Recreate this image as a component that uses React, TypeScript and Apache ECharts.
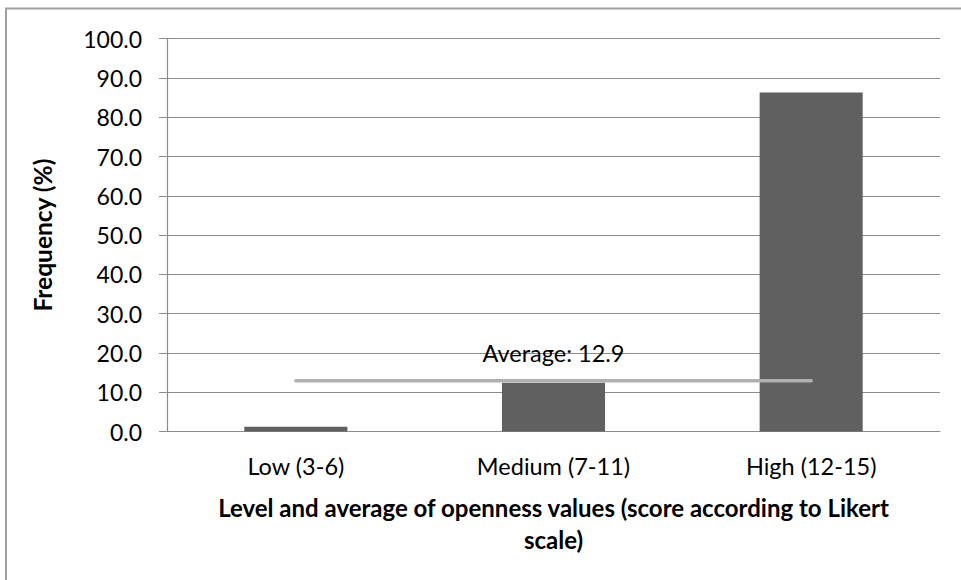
import React, { useEffect, useRef } from "react";
import * as echarts from "echarts";

const categories = ["Low (3-6)", "Medium (7-11)", "High (12-15)"];
const frequency = [1.2, 12.4, 86.3];
const average = 12.9;
const averageLine = [average, average, average];
const yTicks = { min: 0, max: 100, interval: 10 };

const FONT = "Lato";

export default function App() {
  const ref = useRef<HTMLDivElement>(null);

  useEffect(() => {
    if (!ref.current) return;
    const chart = echarts.init(ref.current, undefined, { renderer: "svg" });
    chart.setOption({
      animation: false,
      backgroundColor: "#ffffff",
      textStyle: { fontFamily: FONT },
      graphic: [
        {
          type: "rect",
          shape: { x: 6, y: 8.5, width: 1000, height: 1000 },
          style: { fill: "none", stroke: "#a0a0a0", lineWidth: 2 },
          silent: true,
        },
      ],
      grid: { left: 167, right: 21, top: 38.7, bottom: 148.5 },
      xAxis: {
        type: "category",
        data: categories,
        axisLine: { lineStyle: { color: "#8c8c8c", width: 1.2 } },
        axisTick: { show: false },
        axisLabel: { color: "#000", fontSize: 23.5, fontFamily: FONT, margin: 22 },
        name: "Level and average of openness values (score according to Likert\nscale)",
        nameLocation: "middle",
        nameGap: 60,
        nameTextStyle: {
          color: "#000",
          fontSize: 24,
          fontWeight: "bold",
          fontFamily: FONT,
          lineHeight: 32,
        },
      },
      yAxis: {
        type: "value",
        min: yTicks.min,
        max: yTicks.max,
        interval: yTicks.interval,
        axisLine: { show: true, lineStyle: { color: "#8c8c8c", width: 1.2 } },
        axisTick: { show: true, length: 8, lineStyle: { color: "#8c8c8c" } },
        splitLine: { lineStyle: { color: "#8c8c8c", width: 1.2 } },
        axisLabel: {
          color: "#000",
          fontSize: 23,
          fontFamily: FONT,
          margin: 25,
          formatter: (v: number) => v.toFixed(1),
        },
        name: "Frequency (%)",
        nameLocation: "middle",
        nameRotate: 90,
        nameGap: 112,
        nameTextStyle: { color: "#000", fontSize: 24.5, fontWeight: "bold", fontFamily: FONT },
      },
      series: [
        {
          type: "bar",
          data: frequency,
          barWidth: "40%",
          itemStyle: { color: "#606060" },
        },
        {
          type: "line",
          data: averageLine.map((v, i) =>
            i === 1
              ? {
                  value: v,
                  label: {
                    show: true,
                    position: "top",
                    distance: 15,
                    formatter: "Average: " + average.toFixed(1),
                    color: "#000",
                    fontSize: 23.5,
                    fontFamily: FONT,
                  },
                }
              : v
          ),
          symbol: "circle",
          symbolSize: 1,
          showSymbol: true,
          itemStyle: { color: "#b0b0b0" },
          lineStyle: { color: "#b0b0b0", width: 3.5, cap: "round" },
          z: 3,
        },
      ],
    });
    return () => chart.dispose();
  }, []);

  return (
    <div
      ref={ref}
      style={{ position: "fixed", left: 0, top: 0, width: 961, height: 580 }}
    />
  );
}
